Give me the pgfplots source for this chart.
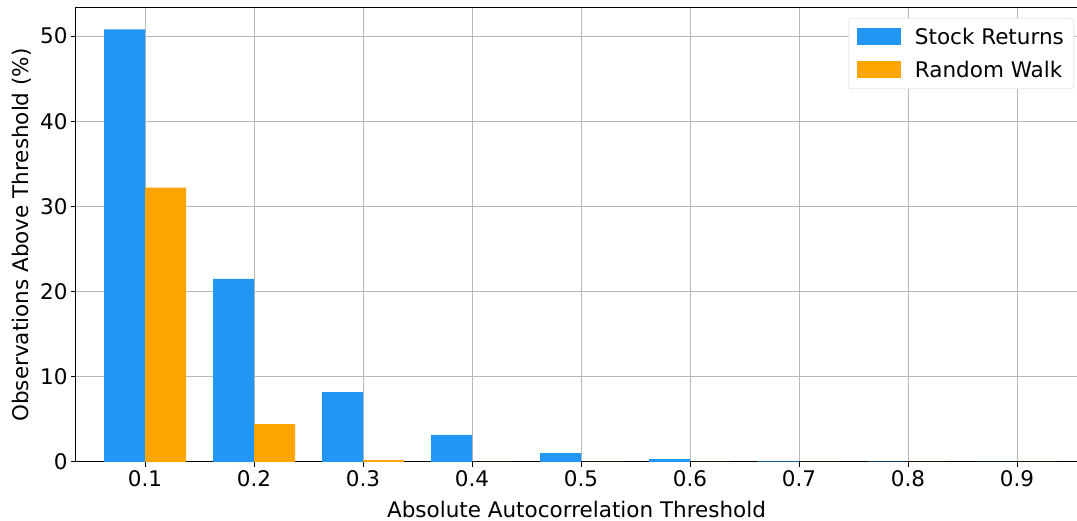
\documentclass[border=0pt]{standalone}
\usepackage{pgfplots}
\pgfplotsset{compat=1.18}
\usepackage{fontspec}
\setmainfont{DejaVu Sans}
\definecolor{sblue}{HTML}{2196F3}
\definecolor{sorange}{HTML}{FFA500}
\definecolor{gridc}{HTML}{B8B8B8}
\begin{document}
\begin{tikzpicture}
\begin{axis}[
  at={(0,0)}, anchor=south west,
  scale only axis, width=1001pt, height=454pt,
  xmin=0.0367, xmax=0.955, ymin=0, ymax=53.3,
  xtick={0.1,0.2,0.3,0.4,0.5,0.6,0.7,0.8,0.9},
  xticklabels={0.1,0.2,0.3,0.4,0.5,0.6,0.7,0.8,0.9},
  ytick={0,10,20,30,40,50},
  /pgf/number format/assume math mode=true,
  tick label style={font=\fontsize{21.5}{24}\selectfont},
  label style={font=\fontsize{21.5}{24}\selectfont},
  xlabel={Absolute Autocorrelation Threshold},
  ylabel={Observations Above Threshold (\%)},
  xlabel style={at={(axis description cs:0.5,0)}, anchor=north, yshift=-36pt},
  ylabel style={yshift=2pt},
  grid=major, major grid style={gridc, line width=1pt},
  tick align=outside, major tick length=5pt,
  xtick pos=bottom, ytick pos=left,
  tick style={black, line width=1pt},
  axis line style={black, line width=1pt},
  ybar, bar width=41pt,
  legend style={at={(0.997,0.978)}, anchor=north east, draw=gridc!60, rounded corners=3pt,
    font=\fontsize{21.5}{24}\selectfont, row sep=11pt, inner xsep=8pt, inner ysep=8pt},
  legend cell align=left,
  legend image code/.code={\fill[#1, sharp corners] (0pt,-8pt) rectangle (44pt,9pt);},
  legend style={/tikz/every even column/.append style={column sep=4pt}},
]
\addplot[fill=sblue, draw=none, bar shift=-20.5pt] coordinates {
 (0.1,50.8) (0.2,21.5) (0.3,8.2) (0.4,3.17) (0.5,1.05) (0.6,0.35) (0.7,0.08) (0.8,0.03) (0.9,0.02)};
\addlegendentry{\hspace{12pt}Stock Returns}
\addplot[fill=sorange, draw=none, bar shift=20.5pt] coordinates {
 (0.1,32.2) (0.2,4.45) (0.3,0.22) (0.4,0.02) (0.5,0.01) (0.6,0.01) (0.7,0.01) (0.8,0.01) (0.9,0.01)};
\addlegendentry{\hspace{12pt}Random Walk}
\end{axis}
\pgfresetboundingbox
\useasboundingbox (-76pt,-59pt) rectangle (1001pt,462pt);
\end{tikzpicture}
\end{document}
